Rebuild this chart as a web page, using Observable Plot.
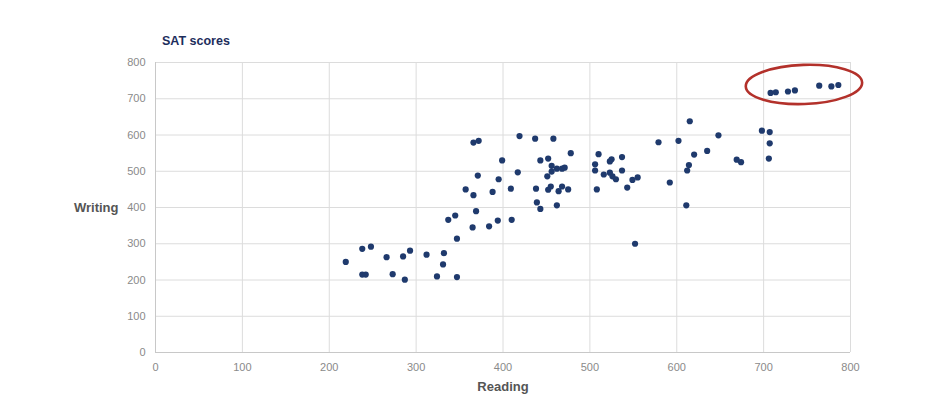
<!DOCTYPE html>
<html>
<head>
<meta charset="utf-8">
<script src="https://cdn.jsdelivr.net/npm/d3@7"></script>
<script src="https://cdn.jsdelivr.net/npm/@observablehq/plot@0.6"></script>
<style>
  html, body { margin: 0; padding: 0; background: #fff; }
  #wrap { position: relative; width: 949px; height: 413px; font-family: "Liberation Sans", Arial, sans-serif; }
  #chartTitle { position: absolute; left: 162px; top: 34px; font-size: 12.5px; font-weight: bold; color: #1d2d5c; z-index: 2; }
</style>
</head>
<body>
<div id="wrap"></div>
<script>
const titleText = "SAT scores";
const xLabel = "Reading";
const yLabel = "Writing";
const xTicks = [0, 100, 200, 300, 400, 500, 600, 700, 800];
const yTicks = [0, 100, 200, 300, 400, 500, 600, 700, 800];

const reading = [219, 238, 248, 238, 242, 266, 273, 285, 287, 293, 312, 324, 332, 331, 347, 347, 337, 345, 365, 369,
  384, 394, 410, 357, 366, 388, 409, 371, 395, 366, 372, 399, 417, 419, 437, 458, 478, 443, 452, 456,
  456, 451, 462, 468, 471, 438, 455, 452, 464, 468, 475, 439, 443, 462, 510, 537, 525, 523, 506, 506,
  537, 516, 523, 526, 530, 549, 555, 543, 508, 552, 579, 602, 615, 648, 620, 635, 614, 612, 592, 611,
  669, 674, 698, 707, 707, 706, 708, 714, 728, 736, 764, 778, 786];
const writing = [250, 286, 292, 215, 215, 263, 216, 265, 201, 281, 270, 210, 274, 243, 208, 314, 366, 378, 345, 390,
  348, 364, 366, 450, 434, 443, 452, 488, 478, 579, 584, 530, 497, 597, 590, 590, 550, 530, 535, 515,
  499, 486, 507, 507, 510, 452, 458, 449, 445, 458, 450, 414, 396, 406, 547, 539, 533, 527, 519, 502,
  502, 491, 496, 486, 478, 476, 483, 455, 450, 300, 580, 584, 638, 599, 546, 556, 517, 502, 469, 406,
  532, 525, 612, 608, 577, 535, 716, 718, 720, 723, 736, 734, 738];

// highlight annotation (data units)
const highlight = {cx: 747, cy: 738, rx: 67, ry: 54};

const data = reading.map((r, i) => ({reading: r, writing: writing[i]}));
const font = '"Liberation Sans", Arial, sans-serif';

const plot = Plot.plot({
  width: 949,
  height: 413,
  marginTop: 62,
  marginBottom: 61,
  marginLeft: 155,
  marginRight: 99,
  style: {fontFamily: font, background: "#fff", overflow: "visible"},
  x: {domain: [0, 800]},
  y: {domain: [0, 800]},
  marks: [
    Plot.gridX(xTicks, {stroke: "#dcdcdc", strokeOpacity: 1}),
    Plot.gridY(yTicks, {stroke: "#dcdcdc", strokeOpacity: 1}),
    Plot.ruleY([0], {stroke: "#c8c8c8"}),
    Plot.ruleX([0], {stroke: "#c8c8c8"}),
    Plot.axisX(xTicks, {tickSize: 0, tickPadding: 11, fontSize: 11, fill: "#8a8a8a", label: null}),
    Plot.axisY(yTicks, {tickSize: 0, tickPadding: 10, fontSize: 11, fill: "#8a8a8a", label: null}),
    Plot.text([xLabel], {frameAnchor: "bottom", dy: 34, fontSize: 13, fontWeight: "bold", fill: "#555", lineAnchor: "middle"}),
    Plot.text([yLabel], {frameAnchor: "left", dx: -37, textAnchor: "end", fontSize: 13, fontWeight: "bold", fill: "#555"}),
    Plot.dot(data, {x: "reading", y: "writing", r: 3.1, fill: "#1f3a6d", stroke: "none"})
  ]
});

const wrap = document.getElementById("wrap");
wrap.appendChild(plot);
plot.style.position = "absolute";
plot.style.left = "0px";
plot.style.top = "0px";

const t = document.createElement("div");
t.id = "chartTitle";
t.textContent = titleText;
wrap.appendChild(t);

// ellipse annotation drawn through the plot's own scales
const sx = plot.scale("x"), sy = plot.scale("y");
const fx = d3.scaleLinear(sx.domain, sx.range);
const fy = d3.scaleLinear(sy.domain, sy.range);
const cx = fx(highlight.cx), cy = fy(highlight.cy);
d3.select(plot).append("ellipse")
  .attr("cx", cx).attr("cy", cy)
  .attr("rx", Math.abs(fx(highlight.cx + highlight.rx) - cx))
  .attr("ry", Math.abs(fy(highlight.cy + highlight.ry) - cy))
  .attr("transform", `rotate(-2 ${cx} ${cy})`)
  .attr("fill", "none")
  .attr("stroke", "#b3312b")
  .attr("stroke-width", 2.6);
</script>
</body>
</html>
